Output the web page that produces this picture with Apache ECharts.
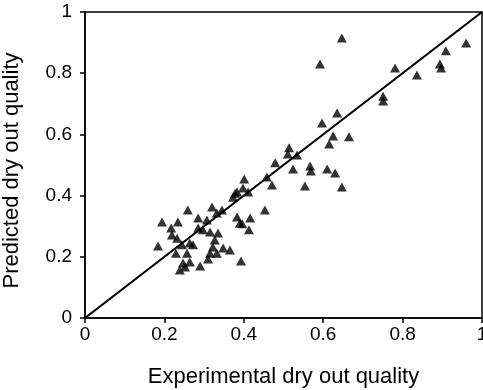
<!DOCTYPE html>
<html>
<head>
<meta charset="utf-8">
<script src="https://cdn.jsdelivr.net/npm/echarts@6/dist/echarts.min.js"></script>
<style>html,body{margin:0;padding:0;background:#fff;}#c{width:483px;height:390px;}</style>
</head>
<body>
<div id="c"></div>
<script>
const xTicks = [0, 0.2, 0.4, 0.6, 0.8, 1];
const yTicks = [0, 0.2, 0.4, 0.6, 0.8, 1];
const experimental = [
  0.647, 0.592, 0.960, 0.909, 0.894, 0.897, 0.781, 0.836, 0.751, 0.751,
  0.635, 0.597, 0.665, 0.625, 0.615, 0.514, 0.511, 0.534, 0.479, 0.567,
  0.569, 0.610, 0.630, 0.524, 0.554, 0.647, 0.458, 0.401, 0.471, 0.398,
  0.411, 0.378, 0.373, 0.453, 0.416, 0.383, 0.390, 0.413, 0.393, 0.320,
  0.332, 0.259, 0.285, 0.307, 0.345, 0.194, 0.234, 0.217, 0.219, 0.232,
  0.285, 0.297, 0.315, 0.335, 0.327, 0.184, 0.244, 0.264, 0.272, 0.229,
  0.257, 0.322, 0.315, 0.332, 0.348, 0.365, 0.310, 0.247, 0.264, 0.252,
  0.290, 0.239, 0.383, 0.396
];
const predicted = [
  0.915, 0.830, 0.899, 0.873, 0.830, 0.817, 0.817, 0.794, 0.725, 0.709,
  0.670, 0.637, 0.592, 0.595, 0.569, 0.556, 0.536, 0.533, 0.507, 0.497,
  0.480, 0.487, 0.474, 0.487, 0.431, 0.428, 0.461, 0.454, 0.435, 0.425,
  0.412, 0.408, 0.395, 0.353, 0.327, 0.330, 0.310, 0.288, 0.186, 0.363,
  0.343, 0.353, 0.327, 0.320, 0.353, 0.314, 0.314, 0.294, 0.271, 0.261,
  0.294, 0.288, 0.281, 0.278, 0.255, 0.235, 0.239, 0.245, 0.239, 0.212,
  0.212, 0.232, 0.212, 0.212, 0.229, 0.222, 0.193, 0.180, 0.183, 0.167,
  0.170, 0.157, 0.412, 0.308
];
const diagonal = [[0, 0], [1, 1]];
const xTitle = 'Experimental dry out quality';
const yTitle = 'Predicted dry out quality';

const points = experimental.map((x, i) => [x, predicted[i]]);
const font = "'Liberation Sans', Arial, sans-serif";
const chart = echarts.init(document.getElementById('c'), null, {renderer: 'canvas'});
chart.setOption({
  backgroundColor: '#fff',
  animation: false,
  grid: {left: 85, top: 12, right: 1, bottom: 72, containLabel: false, outerBoundsMode: 'none',
    show: true, borderColor: '#000', borderWidth: 1.5},
  xAxis: {
    type: 'value', min: 0, max: 1, interval: 0.2,
    name: xTitle, nameLocation: 'middle', nameGap: 48,
    nameTextStyle: {fontFamily: font, fontSize: 22, color: '#000'},
    axisLine: {onZero: false, lineStyle: {color: '#000', width: 1.5}},
    axisTick: {show: true, length: 5, lineStyle: {color: '#000', width: 1.5}},
    axisLabel: {fontFamily: font, fontSize: 19, color: '#000', margin: 7,
      formatter: v => String(xTicks.find(t => Math.abs(t - v) < 1e-9) ?? v)},
    splitLine: {show: false}
  },
  yAxis: {
    type: 'value', min: 0, max: 1, interval: 0.2,
    name: yTitle, nameLocation: 'middle', nameGap: 62,
    nameTextStyle: {fontFamily: font, fontSize: 22, color: '#000', padding: [0, 11, 0, 0]},
    axisLine: {onZero: false, lineStyle: {color: '#000', width: 1.5}},
    axisTick: {show: true, length: 5, lineStyle: {color: '#000', width: 1.5}},
    axisLabel: {fontFamily: font, fontSize: 19, color: '#000', margin: 13,
      formatter: v => String(yTicks.find(t => Math.abs(t - v) < 1e-9) ?? v)},
    splitLine: {show: false}
  },
  series: [
    {type: 'line', data: diagonal, symbol: 'none', lineStyle: {color: '#000', width: 2.2}, silent: true, z: 3},
    {type: 'scatter', data: points, symbol: 'triangle', symbolSize: [10, 9], itemStyle: {color: '#000'}, z: 4}
  ]
});
</script>
</body>
</html>
